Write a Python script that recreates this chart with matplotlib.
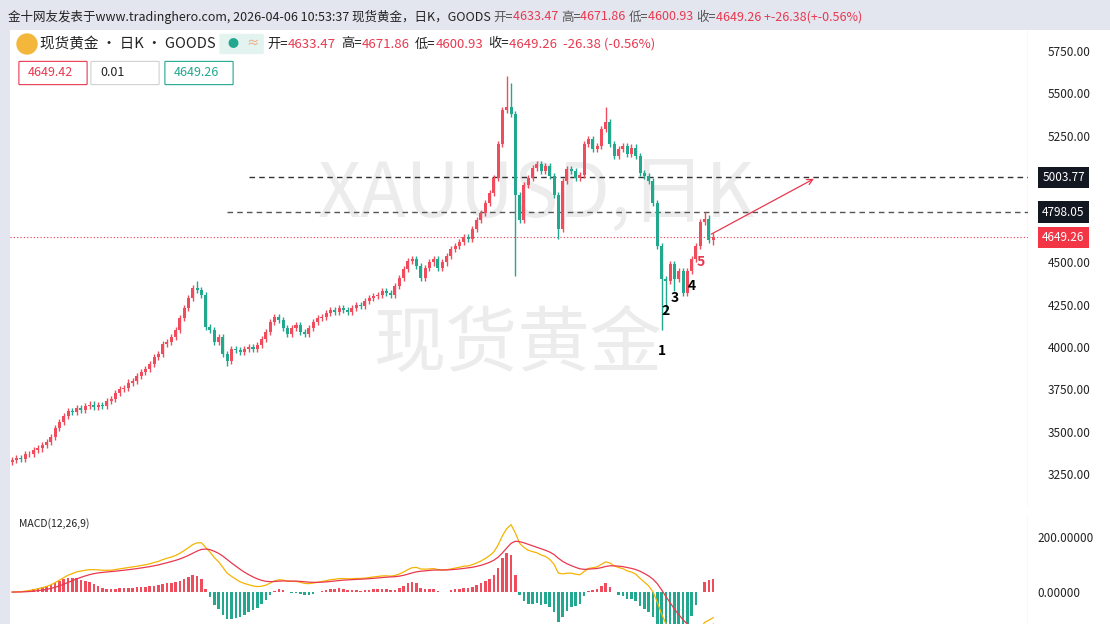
import numpy as np
import matplotlib.pyplot as plt
from matplotlib.patches import FancyBboxPatch, Ellipse

plt.rcParams['font.family'] = ['Noto Sans CJK SC', 'DejaVu Sans']

# daily closes (left to right)
closes = [3333, 3345, 3340, 3365, 3370, 3390, 3400, 3420, 3440, 3470,
          3520, 3555, 3590, 3620, 3615, 3640, 3630, 3650, 3660, 3645,
          3655, 3650, 3680, 3690, 3730, 3750, 3760, 3790, 3800, 3830,
          3850, 3870, 3900, 3940, 3960, 4020, 4030, 4060, 4100, 4170,
          4230, 4290, 4350, 4340, 4310, 4120, 4100, 4030, 4060, 3960,
          3920, 3990, 3980, 3970, 3990, 4000, 3990, 4010, 4050, 4090,
          4150, 4180, 4160, 4110, 4080, 4110, 4130, 4090, 4080, 4110,
          4150, 4170, 4180, 4200, 4220, 4210, 4230, 4220, 4210, 4230,
          4250, 4240, 4270, 4290, 4300, 4310, 4330, 4320, 4310, 4360,
          4410, 4460, 4510, 4520, 4480, 4410, 4470, 4500, 4520, 4470,
          4500, 4540, 4580, 4600, 4620, 4650, 4640, 4700, 4750, 4790,
          4850, 4910, 5000, 5200, 5400, 5420, 5380, 4900, 4750, 4960,
          5000, 5060, 5080, 5040, 5070, 5010, 4900, 4700, 4980, 5050,
          5040, 5000, 5020, 5200, 5230, 5170, 5190, 5290, 5330, 5200,
          5130, 5170, 5190, 5140, 5180, 5130, 5030, 5010, 4980, 4850,
          4600, 4400, 4390, 4490, 4400, 4450, 4320, 4450, 4520, 4600,
          4740, 4760, 4633.47, 4649.26]
# notable wick extremes
high_marks = {43: 4390, 115: 5600, 116: 5560, 138: 5420, 161: 4798, 163: 4671.86}
low_marks = {50: 3890, 117: 4420, 127: 4640, 151: 4100, 152: 4200, 154: 4330, 156: 4300, 163: 4600.93}

price_ticks = [5750, 5500, 5250, 4500, 4250, 4000, 3750, 3500, 3250]
level_hi, level_mid, last_px = 5003.77, 4798.05, 4649.26
wave_labels = [('1', 151, 3975, 'black'), ('2', 152, 4215, 'black'), ('3', 154, 4290, 'black'),
               ('4', 158, 4360, 'black'), ('5', 160, 4500, '#e8384f')]

RED, GREEN = '#ef4d5e', '#22a88f'

W, H = 1110, 624
fig = plt.figure(figsize=(W / 100, H / 100), dpi=100)
fig.patch.set_facecolor('#e4e6ef')


def px_axes(x0, y0, x1, y1):
    return fig.add_axes([x0 / W, 1 - y1 / H, (x1 - x0) / W, (y1 - y0) / H])


bg = px_axes(10, 30, W, H)
bg.set_facecolor('white')
bg.set_xticks([]); bg.set_yticks([])
for s in bg.spines.values():
    s.set_visible(False)

ax = px_axes(10, 30, 1028, 508)
ax.patch.set_alpha(0)
n = len(closes)
idx = np.arange(n)
opens = [closes[0] - 10] + closes[:-1]
for i in idx:
    o, c = opens[i], closes[i]
    col = RED if c >= o else GREEN
    hi = high_marks.get(i, max(o, c) + 18)
    lo = low_marks.get(i, min(o, c) - 18)
    ax.vlines(i, lo, hi, color=col, lw=1, zorder=3)
    ax.bar(i, max(abs(c - o), 4), bottom=min(o, c), width=0.7, color=col, zorder=3)

ax.set_xlim(-0.5, 236.2)
ax.set_ylim(3048, 5875)
ax.yaxis.tick_right()
ax.set_yticks(price_ticks)
ax.set_yticklabels([f'{t:.2f}' for t in price_ticks], fontsize=8.5, color='#222')
ax.tick_params(axis='y', length=0, pad=14)
ax.set_xticks([])
for s in ax.spines.values():
    s.set_visible(False)
ax.axvline(236.2, color='#e0e3eb', lw=1)

ax.hlines(level_hi, 55, 236.2, colors='#333', linestyles=(0, (4, 3)), lw=1)
ax.hlines(level_mid, 50, 236.2, colors='#555', linestyles=(0, (4, 3)), lw=1)
ax.axhline(last_px, color='#e8384f', ls=(0, (1, 2)), lw=0.8)
ax.annotate('', xy=(187, 5003), xytext=(162, 4660),
            arrowprops=dict(arrowstyle='->', color='#e8384f', lw=0.9))
for t, i, y, c in wave_labels:
    ax.text(i, y, t, fontsize=10, color=c, ha='center', va='center', fontweight='bold')

# watermarks
ax.text(71, 4900, 'XAUUSD,日K', fontsize=54, color='#ececec', ha='left', va='center', zorder=1)
ax.text(84, 4010, '现货黄金', fontsize=52, color='#ececec', ha='left', va='center', zorder=1)

for val, bgc in [(level_hi, '#131722'), (level_mid, '#131722'), (last_px, '#f23645')]:
    ax.text(239.5, val, f'{val:.2f}', fontsize=8.5, color='white', ha='left', va='center',
            bbox=dict(boxstyle='square,pad=0.35', fc=bgc, ec='none'), clip_on=False, zorder=5)

# MACD pane
mx = px_axes(10, 515, 1028, H)
mx.patch.set_alpha(0)
c = np.array(closes, dtype=float)


def ema(a, span):
    k = 2 / (span + 1)
    out = np.empty_like(a)
    out[0] = a[0]
    for j in range(1, len(a)):
        out[j] = a[j] * k + out[j - 1] * (1 - k)
    return out


dif = ema(c, 12) - ema(c, 26)
dea = ema(dif, 9)
hist = 2 * (dif - dea)
mx.bar(idx, hist, width=0.6, color=[RED if h >= 0 else GREEN for h in hist])
mx.plot(idx, dif, color='#f5b301', lw=0.9)
mx.plot(idx, dea, color='#e8384f', lw=0.9)
mx.set_xlim(-0.5, 236.2)
mx.set_ylim(-116, 280)
mx.yaxis.tick_right()
mx.set_yticks([0, 200])
mx.set_yticklabels(['0.00000', '200.00000'], fontsize=8.5, color='#222')
mx.tick_params(axis='y', length=0, pad=7)
mx.set_xticks([])
for s in mx.spines.values():
    s.set_visible(False)
mx.axvline(236.2, color='#e0e3eb', lw=1)
mx.text(1.5, 270, 'MACD(12,26,9)', fontsize=7.5, color='#222', va='top')

# header texts, chained left to right
renderer = fig.canvas.get_renderer()


def chain(x, y, parts, size):
    for txt, col, gap in parts:
        t = fig.text(x / W, 1 - y / H, txt, fontsize=size, color=col, va='center')
        x += t.get_window_extent(renderer).width + gap
    return x


chain(8, 17, [('金十网友发表于www.tradinghero.com, 2026-04-06 10:53:37 现货黄金，日K，GOODS ', '#222', 0),
              ('开=', '#555', 0), ('4633.47 ', '#e8384f', 0), ('高=', '#555', 0), ('4671.86 ', '#e8384f', 0),
              ('低=', '#555', 0), ('4600.93 ', '#e8384f', 0), ('收=', '#555', 0),
              ('4649.26 +-26.38(+-0.56%)', '#e8384f', 0)], 9)

fig.patches.append(Ellipse((27 / W, 1 - 44 / H), 20 / W, 20 / H, transform=fig.transFigure,
                           color='#f3b73b', figure=fig))
x = chain(40, 44, [('现货黄金 · 日K · GOODS', '#222', 6)], 10.5)
fig.patches.append(FancyBboxPatch((x / W, 1 - 53 / H), 40 / W, 18 / H, boxstyle='round,pad=0.002',
                                  transform=fig.transFigure, fc='#e3f3ef', ec='none', figure=fig))
fig.text((x + 6) / W, 1 - 44 / H, '●', fontsize=8, color='#22a88f', va='center')
fig.text((x + 25) / W, 1 - 44 / H, '≈', fontsize=9, color='#f0a070', va='center')
chain(x + 46, 44, [('开=', '#222', 0), ('4633.47', '#e8384f', 5), ('高=', '#222', 0), ('4671.86', '#e8384f', 5),
                   ('低=', '#222', 0), ('4600.93', '#e8384f', 5), ('收=', '#222', 0),
                   ('4649.26  -26.38 (-0.56%)', '#e8384f', 0)], 9.5)

for x0, w, txt, ec, tc in [(20, 66, '4649.42', '#e8384f', '#e8384f'), (92, 66, '0.01', '#d0d0d0', '#222'),
                            (166, 66, '4649.26', '#22a88f', '#22a88f')]:
    fig.patches.append(FancyBboxPatch((x0 / W, 1 - 84 / H), w / W, 22 / H, boxstyle='round,pad=0.001',
                                      transform=fig.transFigure, fc='white', ec=ec, lw=0.8, figure=fig))
    fig.text((x0 + 8) / W, 1 - 73 / H, txt, fontsize=9, color=tc, va='center')

fig.savefig('out.png', dpi=100)
